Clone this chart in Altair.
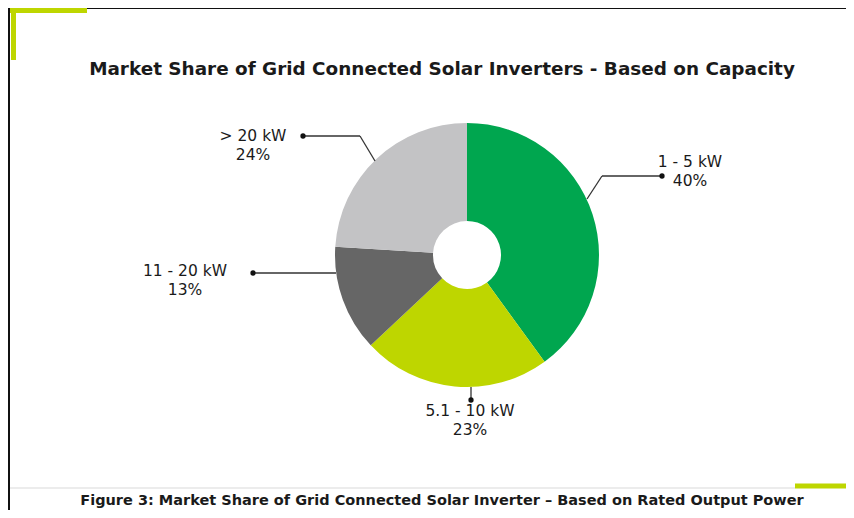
import altair as alt
import pandas as pd

# ---- data ----
categories = ["1 - 5 kW", "5.1 - 10 kW", "11 - 20 kW", "> 20 kW"]
shares = [40, 23, 13, 24]
colors = ["#00A64F", "#BED600", "#666666", "#C3C3C5"]
title_text = "Market Share of Grid Connected Solar Inverters - Based on Capacity"
caption_text = "Figure 3: Market Share of Grid Connected Solar Inverter \u2013 Based on Rated Output Power"

W, H = 838, 502
CX, CY = 459, 247
R_OUT, R_IN = 132, 34
FONT = "DejaVu Sans"

pie_df = pd.DataFrame({"category": categories, "share": shares, "order": list(range(len(categories)))})

arcs = alt.Chart(pie_df).mark_arc(outerRadius=R_OUT, innerRadius=R_IN).encode(
    theta=alt.Theta("share:Q", stack=True),
    color=alt.Color("category:N", scale=alt.Scale(domain=categories, range=colors), legend=None),
    order=alt.Order("order:Q"),
    x=alt.value(CX),
    y=alt.value(CY),
)

# label anchor positions (annotation layout)
lab_x = [682, 462, 177, 245]
lab_y = [154, 403, 263, 128]
lab_df = pd.DataFrame({
    "name": categories,
    "pct": [f"{v}%" for v in shares],
    "lx": lab_x,
    "ly": lab_y,
    "py": [y + 19 for y in lab_y],
})

name_text = alt.Chart(lab_df).mark_text(font=FONT, fontSize=15.5, color="#1a1a1a", baseline="middle", align="center").encode(
    x=alt.X("lx:Q", scale=None), y=alt.Y("ly:Q", scale=None), text="name:N")
pct_text = alt.Chart(lab_df).mark_text(font=FONT, fontSize=15.5, color="#1a1a1a", baseline="middle", align="center").encode(
    x=alt.X("lx:Q", scale=None), y=alt.Y("py:Q", scale=None), text="pct:N")

# leader line segments
seg_df = pd.DataFrame({
    "x1": [654, 594, 463, 245, 295, 352],
    "y1": [168, 168, 379, 265, 128, 128],
    "x2": [594, 579, 463, 328, 352, 367],
    "y2": [168, 191, 392, 265, 128, 153],
})
leaders = alt.Chart(seg_df).mark_rule(color="#333333", strokeWidth=1.3).encode(
    x=alt.X("x1:Q", scale=None), y=alt.Y("y1:Q", scale=None),
    x2="x2:Q", y2="y2:Q")

dot_df = pd.DataFrame({"x": [654, 463, 245, 295], "y": [168, 392, 265, 128]})
dots = alt.Chart(dot_df).mark_circle(color="#111111", size=28, opacity=1).encode(
    x=alt.X("x:Q", scale=None), y=alt.Y("y:Q", scale=None))

title = alt.Chart(pd.DataFrame({"t": [title_text]})).mark_text(
    font=FONT, fontSize=18.4, fontWeight="bold", color="#1a1a1a", align="center", baseline="middle"
).encode(x=alt.value(434), y=alt.value(61), text="t:N")

caption = alt.Chart(pd.DataFrame({"t": [caption_text]})).mark_text(
    font=FONT, fontSize=14.5, fontWeight="bold", color="#1a1a1a", align="center", baseline="middle"
).encode(x=alt.value(434), y=alt.value(493), text="t:N")

# decorative frame
frame_df = pd.DataFrame({
    "x1": [0, 1, 2, 787],
    "y1": [0, 0, 480, 478],
    "x2": [838, 1, 787, 838],
    "y2": [0, 502, 480, 478],
    "c": ["#111111", "#111111", "#E6E6E6", "#BED600"],
    "w": [2, 2, 1.5, 5],
})
frame = alt.Chart(frame_df).mark_rule().encode(
    x=alt.X("x1:Q", scale=None), y=alt.Y("y1:Q", scale=None), x2="x2:Q", y2="y2:Q",
    color=alt.Color("c:N", scale=None), strokeWidth=alt.StrokeWidth("w:Q", scale=None))

accent_df = pd.DataFrame({"x1": [2, 5.5], "y1": [2.5, 2], "x2": [79, 5.5], "y2": [2.5, 52]})
accent = alt.Chart(accent_df).mark_rule(color="#BED600", strokeWidth=5).encode(
    x=alt.X("x1:Q", scale=None), y=alt.Y("y1:Q", scale=None), x2="x2:Q", y2="y2:Q")

chart = alt.layer(frame, accent, arcs, leaders, dots, name_text, pct_text, title, caption).properties(
    width=W, height=H, padding=0, autosize="none"
).configure_view(stroke=None).configure(background="white")

chart.save("out.html", embed_options={"renderer": "svg", "actions": False})
